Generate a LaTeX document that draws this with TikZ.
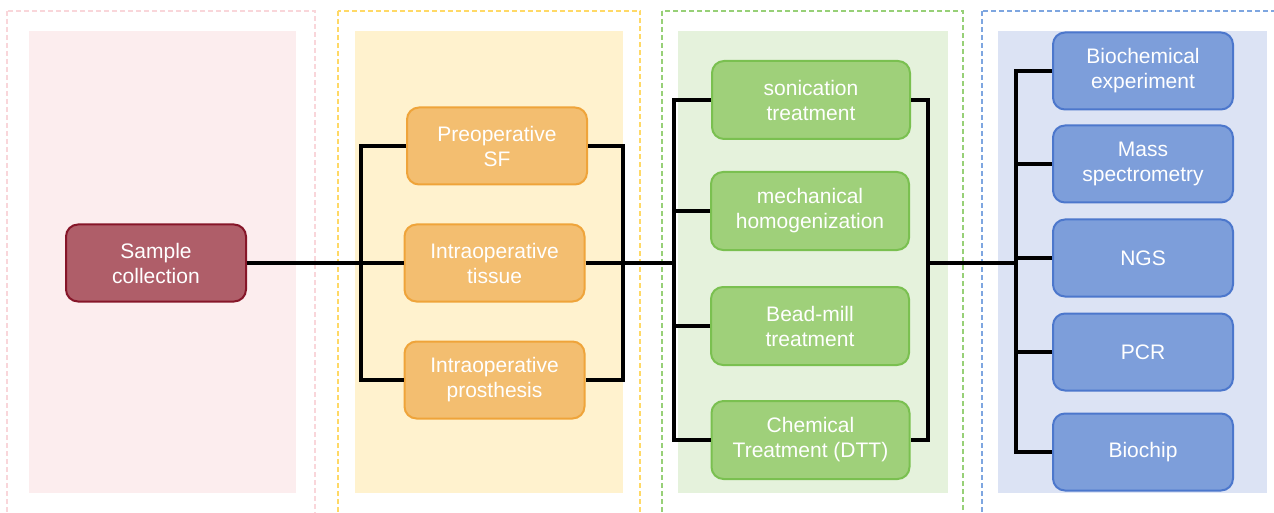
\documentclass[tikz,border=0pt]{standalone}
\usepackage{fontspec}
\setmainfont{Liberation Sans}
\definecolor{pinkB}{RGB}{249,214,218}
\definecolor{pinkF}{RGB}{252,237,238}
\definecolor{yellowB}{RGB}{255,217,102}
\definecolor{yellowF}{RGB}{255,242,206}
\definecolor{greenB}{RGB}{151,208,119}
\definecolor{greenF}{RGB}{229,242,220}
\definecolor{blueB}{RGB}{126,166,224}
\definecolor{blueF}{RGB}{220,227,244}
\definecolor{sampF}{RGB}{175,94,105}
\definecolor{sampD}{RGB}{134,22,41}
\definecolor{oranF}{RGB}{243,190,112}
\definecolor{oranD}{RGB}{239,164,58}
\definecolor{grnF}{RGB}{159,208,122}
\definecolor{grnD}{RGB}{122,192,80}
\definecolor{bluF}{RGB}{125,158,218}
\definecolor{bluD}{RGB}{76,119,204}
\begin{document}
\begin{tikzpicture}[x=1pt,y=-1pt,
  box/.style={rounded corners=12pt, line width=2pt, text=white, align=center,
    inner sep=0pt, minimum width=180pt, minimum height=77pt,
    font=\fontsize{21}{25}\selectfont},
  sampbox/.style={box, fill=sampF, draw=sampD},
  oranbox/.style={box, fill=oranF, draw=oranD},
  grnbox/.style={box, fill=grnF, draw=grnD, minimum width=198pt, minimum height=78pt},
  blubox/.style={box, fill=bluF, draw=bluD},
  conn/.style={line width=3.5pt, draw=black},
  zone/.style={line width=2pt, dash pattern=on 5pt off 3pt}
]
\useasboundingbox (0,0) rectangle (1274,513);
\clip (0,0) rectangle (1274,513);
% zones
\fill[pinkF] (29,31) rectangle (296,493);
\draw[zone, draw=pinkB] (7,11) rectangle (315,530);
\fill[yellowF] (355,31) rectangle (623,493);
\draw[zone, draw=yellowB] (337.5,11) rectangle (640,530);
\fill[greenF] (678,31) rectangle (948,493);
\draw[zone, draw=greenB] (662,11) rectangle (963,530);
\fill[blueF] (998,31) rectangle (1267,493);
\draw[zone, draw=blueB] (982,11) rectangle (1290,530);
% nodes
\node[sampbox] (sample) at (156,263) {Sample\\collection};
\node[oranbox] (preop) at (497,146) {Preoperative\\SF};
\node[oranbox] (tissue) at (494.5,263) {Intraoperative\\tissue};
\node[oranbox] (prosth) at (494.5,380) {Intraoperative\\prosthesis};
\node[grnbox] (sonic) at (811,100) {sonication\\treatment};
\node[grnbox] (mech) at (810,211) {mechanical\\homogenization};
\node[grnbox] (bead) at (810,326) {Bead-mill\\treatment};
\node[grnbox] (chem) at (810.5,440) {Chemical\\Treatment (DTT)};
\node[blubox] (biochem) at (1143,71) {Biochemical\\experiment};
\node[blubox] (mass) at (1143,164) {Mass\\spectrometry};
\node[blubox] (ngs) at (1143,258) {NGS};
\node[blubox] (pcr) at (1143,352) {PCR};
\node[blubox] (biochip) at (1143,452) {Biochip};
% junctions
\coordinate (ol) at (361,263);
\coordinate (or) at (623,263);
\coordinate (gl) at (674,263);
\coordinate (gr) at (928,263);
\coordinate (bl) at (1016,263);
% connectors
\draw[conn] (sample.east) -- (tissue.west);
\draw[conn] (preop.west) -| (ol) |- (prosth.west);
\draw[conn] (preop.east) -| (or) |- (prosth.east);
\draw[conn] (tissue.east) -- (gl);
\draw[conn] (sonic.west) -| (gl) |- (chem.west);
\draw[conn] (mech.west) -- (mech.west -| gl);
\draw[conn] (bead.west) -- (bead.west -| gl);
\draw[conn] (sonic.east) -| (gr) |- (chem.east);
\draw[conn] (gr) -- (bl);
\draw[conn] (biochem.west) -| (bl) |- (biochip.west);
\draw[conn] (mass.west) -- (mass.west -| bl);
\draw[conn] (ngs.west) -- (ngs.west -| bl);
\draw[conn] (pcr.west) -- (pcr.west -| bl);
\end{tikzpicture}
\end{document}
